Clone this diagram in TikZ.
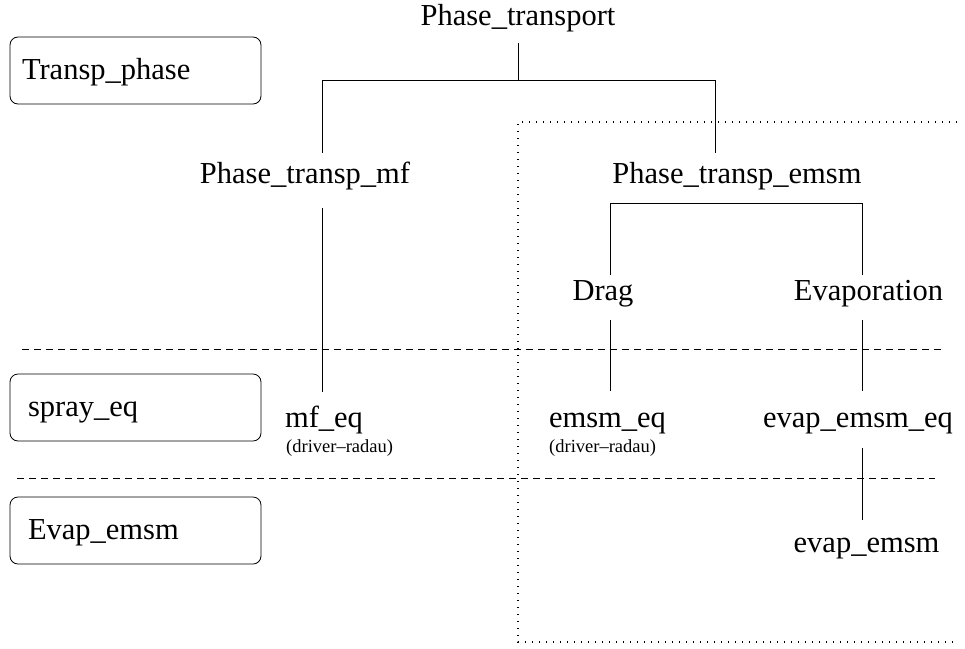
\documentclass[tikz,border=0pt]{standalone}
\usepackage{fontspec}
\setmainfont{Liberation Serif}
\begin{document}
\begin{tikzpicture}[x=1pt,y=-1pt,
  conn/.style={line width=0.8pt},
  lbl/.style={inner sep=0pt, text height=21pt, text depth=7pt, anchor=base,
    font=\fontsize{30.5}{36}\selectfont},
  note/.style={inner sep=0pt, anchor=base west, font=\fontsize{18.5}{22}\selectfont},
  levelbox/.style={draw, line width=0.8pt, rounded corners=8pt, minimum height=67pt,
    align=left, text height=23pt, text depth=5pt, inner ysep=0pt,
    font=\fontsize{30.5}{36}\selectfont},
  sepline/.style={line width=0.8pt, dash pattern=on 6.5pt off 5.5pt},
  zone/.style={line width=1.3pt, dash pattern=on 1.2pt off 5.8pt}]
\useasboundingbox (0,0) rectangle (965,648);

% level boxes
\node[levelbox, inner xsep=12pt, text width=227pt] (b1) at (135.5,70.5) {Transp\_phase};
\node[levelbox, inner xsep=18pt, text width=215pt] (b2) at (135.5,407.5) {spray\_eq};
\node[levelbox, inner xsep=18pt, text width=215pt] (b3) at (135.5,530.5) {Evap\_emsm};

% separators
\draw[sepline] (22,349) -- (942,349);
\draw[sepline] (17,478) -- (935,478);
\draw[zone] (957,122) -- (518,122) -- (518,642) -- (957,642);

% tree nodes
\node[lbl] (pt) at (518,25) {Phase\_transport};
\node[lbl] (ptmf) at (305,183) {Phase\_transp\_mf};
\node[lbl] (ptem) at (737,183) {Phase\_transp\_emsm};
\node[lbl] (drag) at (603,300) {Drag};
\node[lbl] (evap) at (868.5,300) {Evaporation};
\node[lbl] (mfeq) at (324,427) {mf\_eq};
\node[note] (mfdr) at (286,452) {(driver–radau)};
\node[lbl] (emeq) at (607.5,427) {emsm\_eq};
\node[note] (emdr) at (549,452) {(driver–radau)};
\node[lbl] (eveq) at (858,427) {evap\_emsm\_eq};
\node[lbl] (evem) at (866.5,552) {evap\_emsm};

% junction coordinates
\coordinate (j0) at (518,80);
\coordinate (jL) at (322,80);
\coordinate (jR) at (715,80);
\coordinate (bL) at (610,203);
\coordinate (bR) at (862,203);

% connectors
\draw[conn, shorten <=11pt] (pt.south) -- (j0);
\draw[conn, shorten <=9pt, shorten >=9pt] (ptmf.north -| jL) -- (jL) -- (jR) -- (ptem.north -| jR);
\draw[conn, shorten <=18pt, shorten >=14pt] (ptmf.south -| jL) -- (mfeq.north -| jL);
\draw[conn, shorten <=4pt, shorten >=4pt] (drag.north -| bL) -- (bL) -- (bR) -- (evap.north -| bR);
\draw[conn, shorten <=13pt, shorten >=15pt] (drag.south -| bL) -- (emeq.north -| bL);
\draw[conn, shorten <=13pt, shorten >=15pt] (evap.south -| bR) -- (eveq.north -| bR);
\draw[conn, shorten <=14pt, shorten >=11pt] (eveq.south -| bR) -- (evem.north -| bR);
\end{tikzpicture}
\end{document}
